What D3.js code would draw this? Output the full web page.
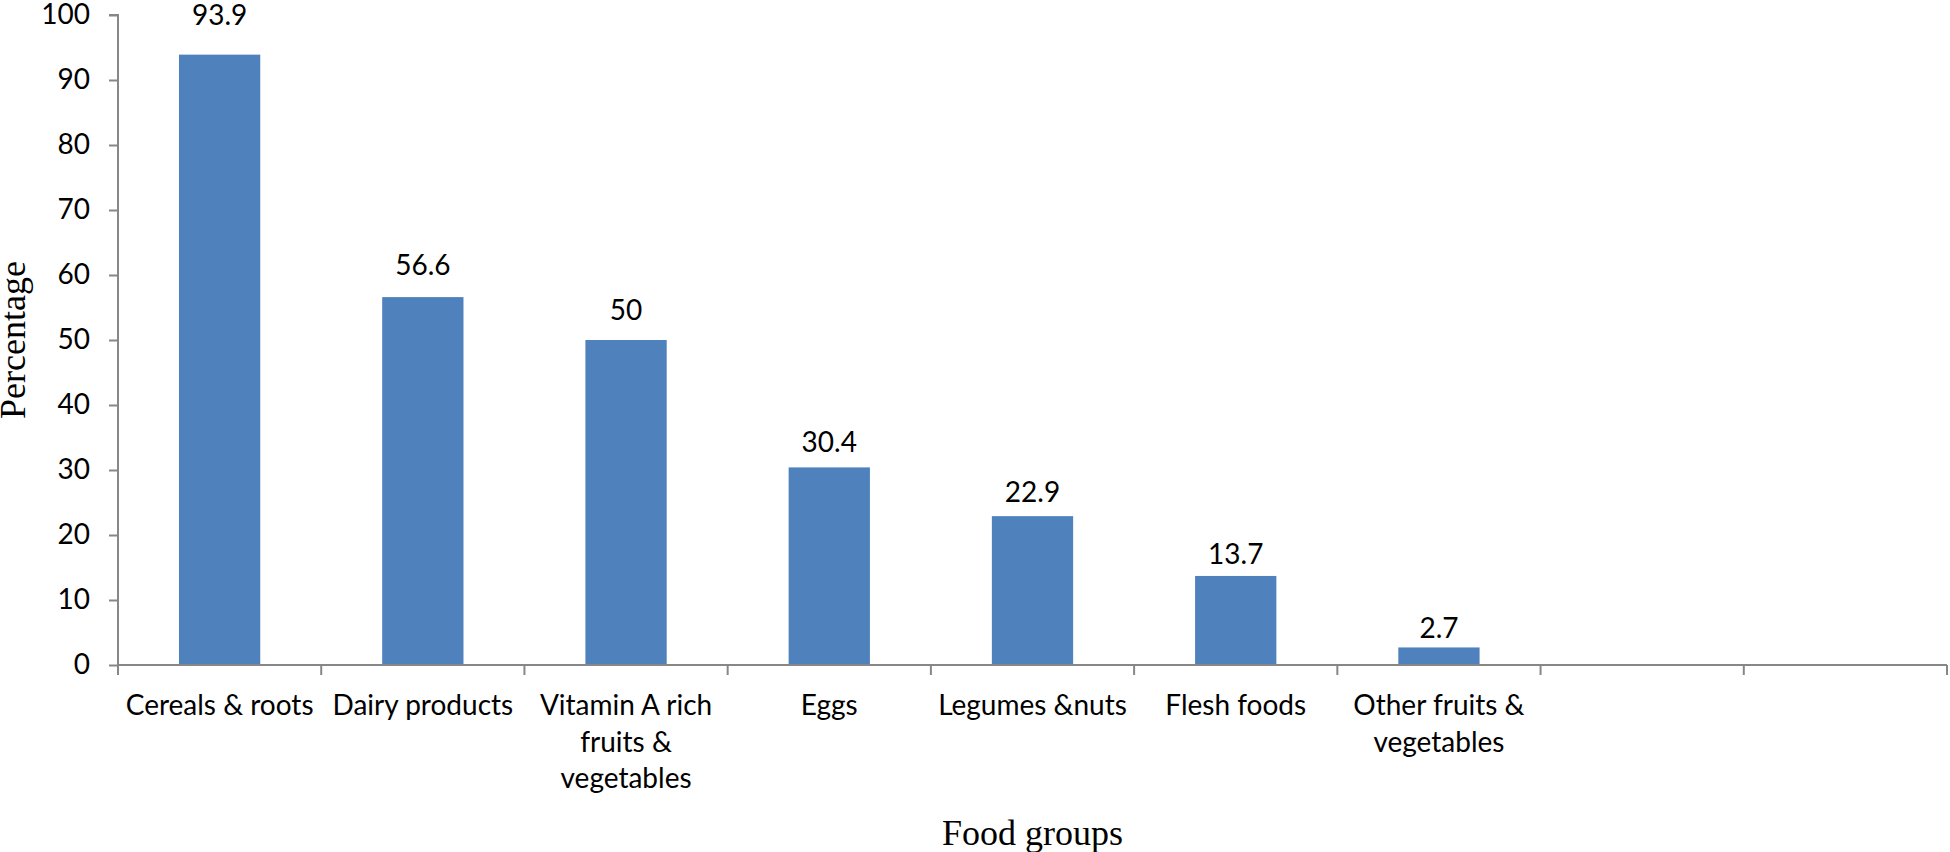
<!DOCTYPE html>
<html>
<head>
<meta charset="utf-8">
<script src="https://cdn.jsdelivr.net/npm/d3@7"></script>
<style>
  html, body { margin: 0; padding: 0; background: #fff; }
  svg { display: block; }
</style>
</head>
<body>
<svg id="chart" width="1950" height="852"></svg>
<script>
// ---- data ----
const categories = [
  ["Cereals & roots"],
  ["Dairy products"],
  ["Vitamin A rich", "fruits &", "vegetables"],
  ["Eggs"],
  ["Legumes &nuts"],
  ["Flesh foods"],
  ["Other fruits &", "vegetables"],
  [],
  []
];
const values = [93.9, 56.6, 50, 30.4, 22.9, 13.7, 2.7];
const valueLabels = ["93.9", "56.6", "50", "30.4", "22.9", "13.7", "2.7"];
const yTicks = [0, 10, 20, 30, 40, 50, 60, 70, 80, 90, 100];
const xTitle = "Food groups";
const yTitle = "Percentage";

// ---- layout ----
const svg = d3.select("#chart");
const axisColor = "#878787";
const barColor = "#4F81BD";
const sans = "Lato, 'Open Sans', sans-serif";
const serif = "'Liberation Serif', 'Times New Roman', serif";

const x = d3.scaleBand().domain(d3.range(categories.length)).range([118, 1947]).paddingInner(0).paddingOuter(0);
const y = d3.scaleLinear().domain([0, 100]).range([665, 15]);
// data labels in the reference sit on a slightly different vertical scale
const yLabel = d3.scaleLinear().domain([0, 100]).range([646, -26]);
const barW = x.bandwidth() * 0.4;

// bars
svg.append("g").selectAll("rect").data(values).join("rect")
  .attr("x", (d, i) => x(i) + x.bandwidth() / 2 - barW / 2)
  .attr("y", d => y(d))
  .attr("width", barW)
  .attr("height", d => y(0) - y(d))
  .attr("fill", barColor);

// value labels
svg.append("g").selectAll("text").data(values).join("text")
  .attr("x", (d, i) => x(i) + x.bandwidth() / 2)
  .attr("y", d => yLabel(d))
  .attr("dy", "0.35em")
  .attr("text-anchor", "middle")
  .attr("font-family", sans)
  .attr("font-size", 28)
  .attr("fill", "#000")
  .text((d, i) => valueLabels[i]);

// y axis
const yAxis = d3.axisLeft(y).tickValues(yTicks).tickSize(9).tickPadding(19).tickFormat(d3.format("d"));
const gy = svg.append("g").attr("transform", `translate(${x.range()[0]},0)`).call(yAxis);
gy.select(".domain").attr("stroke", axisColor).attr("stroke-width", 2).attr("d", `M-9,${y(100)}H0V${y(0)}`);
gy.selectAll(".tick line").attr("stroke", axisColor).attr("stroke-width", 2);
gy.selectAll(".tick text").attr("font-family", sans).attr("font-size", 28).attr("fill", "#000");

// x axis: baseline + boundary ticks
const gx = svg.append("g");
gx.append("line")
  .attr("x1", x.range()[0]).attr("x2", x.range()[1])
  .attr("y1", y(0)).attr("y2", y(0))
  .attr("stroke", axisColor).attr("stroke-width", 2);
const bounds = d3.range(categories.length + 1).map(i => i < categories.length ? x(i) : x.range()[1]);
gx.selectAll("line.tk").data(bounds).join("line").attr("class", "tk")
  .attr("x1", d => d).attr("x2", d => d)
  .attr("y1", y(0)).attr("y2", y(0) + 10)
  .attr("stroke", axisColor).attr("stroke-width", 2);

// category labels
const cat = svg.append("g").selectAll("text").data(categories).join("text")
  .attr("text-anchor", "middle")
  .attr("font-family", sans)
  .attr("font-size", 28)
  .attr("fill", "#000");
cat.each(function(lines, i) {
  const t = d3.select(this);
  lines.forEach((ln, j) => {
    t.append("tspan")
      .attr("x", x(i) + x.bandwidth() / 2)
      .attr("y", 715 + j * 36.6)
      .text(ln);
  });
});

// axis titles
svg.append("text")
  .attr("x", (x.range()[0] + x.range()[1]) / 2)
  .attr("y", 845)
  .attr("text-anchor", "middle")
  .attr("font-family", serif)
  .attr("font-size", 36)
  .attr("fill", "#000")
  .text(xTitle);

svg.append("text")
  .attr("transform", `translate(25,${(y(0) + y(100)) / 2}) rotate(-90)`)
  .attr("text-anchor", "middle")
  .attr("font-family", serif)
  .attr("font-size", 36)
  .attr("fill", "#000")
  .text(yTitle);
</script>
</body>
</html>
